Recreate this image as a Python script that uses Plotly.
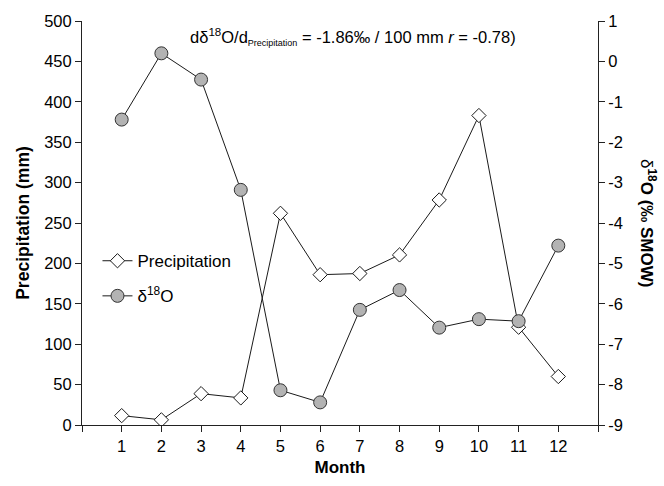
import plotly.graph_objects as go

# Monthly values
months = [1, 2, 3, 4, 5, 6, 7, 8, 9, 10, 11, 12]
precipitation = [11.6, 6.4, 38.8, 33.5, 262, 186, 187.5, 210.5, 278.5, 383, 121, 60]
delta18o = [-1.44, 0.20, -0.45, -3.18, -8.14, -8.44, -6.15, -5.66, -6.59, -6.38, -6.43, -4.56]

x_tickvals = list(range(0, 14))
x_ticktext = [""] + [str(m) for m in months] + [""]
d_tickvals = list(range(-9, 2))
d_ticktext = [str(v) for v in d_tickvals]  # plain hyphen-minus signs

FONT = "Arial, Liberation Sans, sans-serif"

fig = go.Figure()

fig.add_trace(go.Scatter(
    x=months, y=precipitation, name="Precipitation",
    mode="lines+markers", legendgroup="p",
    line=dict(color="#1a1a1a", width=1),
    marker=dict(symbol="diamond", size=11, color="white",
                line=dict(color="#1a1a1a", width=1)),
    yaxis="y",
))

fig.add_trace(go.Scatter(
    x=months, y=delta18o, name="δ<sup>18</sup>O",
    mode="lines+markers", legendgroup="d",
    line=dict(color="#1a1a1a", width=1),
    marker=dict(symbol="circle", size=13, color="#b3b3b3",
                line=dict(color="#333333", width=1)),
    yaxis="y2",
))

axis_common = dict(
    showgrid=False, zeroline=False, showline=True, linecolor="#222222",
    linewidth=1, ticks="outside", ticklen=6, tickcolor="#222222",
    tickfont=dict(family=FONT, size=16.5, color="black"),
)

fig.update_layout(
    width=664, height=486,
    margin=dict(l=82, r=66, t=18, b=50),
    paper_bgcolor="white", plot_bgcolor="white",
    font=dict(family=FONT, color="black"),
    xaxis=dict(
        range=[0, 13], tickvals=x_tickvals, ticktext=x_ticktext,
        title=dict(text="<b>Month</b>", font=dict(family=FONT, size=17), standoff=7),
        **axis_common,
    ),
    yaxis=dict(
        range=[0, 500], dtick=50,
        title=dict(text="<b>Precipitation (mm)</b>", font=dict(family=FONT, size=17.5), standoff=10),
        **axis_common,
    ),
    yaxis2=dict(
        range=[-9, 1], tickvals=d_tickvals, ticktext=d_ticktext,
        overlaying="y", side="right",
        **axis_common,
    ),
    legend=dict(
        x=0.03, y=0.45, xanchor="left", yanchor="top",
        bgcolor="rgba(0,0,0,0)", borderwidth=0,
        font=dict(family=FONT, size=17, color="black"),
        tracegroupgap=10,
    ),
    annotations=[
        dict(
            text=("dδ<sup>18</sup>O/d<sub><span style='font-size:9px'>Precipitation</span></sub>"
                  " = -1.86‰ / 100 mm <i>r</i> = -0.78)"),
            xref="paper", yref="paper", x=0.525, y=0.96,
            xanchor="center", yanchor="middle", showarrow=False,
            font=dict(family=FONT, size=16.5, color="black"),
        ),
        dict(
            text="δ<b><sup>18</sup>O (‰ SMOW)</b>",
            xref="paper", yref="paper", x=1.0, xshift=50, y=0.5,
            xanchor="center", yanchor="middle", textangle=90, showarrow=False,
            font=dict(family=FONT, size=17, color="black"),
        ),
    ],
)

fig.write_html("out.html")
